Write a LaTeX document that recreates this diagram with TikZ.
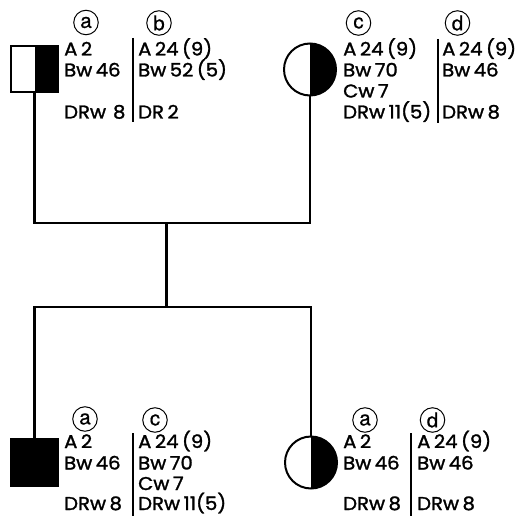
\documentclass[tikz,border=0pt]{standalone}
\usepackage{fontspec}
\newfontfamily\hlafont[FakeStretch=1.06, FakeBold=1.5]{Poppins}
\newfontfamily\tagfont[FakeBold=0.6]{TeX Gyre Heros}
\newcommand{\gp}{\hspace{3.5bp}}
\tikzset{
  lbl/.style={anchor=base west, inner sep=0pt, font=\hlafont\fontsize{18.5bp}{21bp}\selectfont},
  tag/.style={draw, circle, line width=1bp, minimum size=24.5bp, inner sep=0pt,
              font=\tagfont\fontsize{20.5bp}{20.5bp}\selectfont},
  kin/.style={line width=2.8bp},
  sep/.style={line width=1.1bp},
  male/.style={draw, rectangle, line width=2bp, minimum size=46bp, inner sep=0pt},
  female/.style={draw, circle, line width=2bp, minimum size=52bp, inner sep=0pt},
  halfblack/.style={path picture={\fill[black] (path picture bounding box.north)
      rectangle (path picture bounding box.south east);}},
}
\begin{document}
\begin{tikzpicture}[x=1bp,y=-1bp]
\useasboundingbox (0,0) rectangle (519,516);

% individuals
\node[male, halfblack] (father) at (34.5,69) {};
\node[female, halfblack] (mother) at (310,69.5) {};
\node[male, fill=black, minimum size=47bp] (son) at (34.5,462.5) {};
\node[female, halfblack] (daughter) at (311,462.5) {};

% lines of descent
\coordinate (mate) at (166.5,223);
\coordinate (sib) at (166.5,307);
\draw[kin] (father.south) |- (mate) -| (mother.south);
\draw[kin] (mate) -- (sib);
\draw[kin] (son.north) |- (sib) -| (daughter.north);

% father: haplotypes a / b
\node[tag] (fa) at (86,22.5) {a};
\node[tag] (fb) at (159,23) {b};
\node[lbl] (f1) at (64,55.5) {A\gp 2};
\node[lbl] (f2) at (64,76.5) {Bw\gp 46};
\node[lbl] (f3) at (64,118.5) {DRw\hspace{7bp}8};
\node[lbl] (f4) at (138,55.5) {A\gp 24\gp(9)};
\node[lbl] (f5) at (138,76.5) {Bw\gp 52\gp(5)};
\node[lbl] (f6) at (138,118.5) {DR\gp 2};
\coordinate (fd1) at (133,38);
\coordinate (fd2) at (133,122);
\draw[sep] (fd1) -- (fd2);

% mother: haplotypes c / d
\node[tag] (mc) at (358.5,23) {c};
\node[tag] (md) at (457.5,23) {d};
\node[lbl] (m1) at (343,55.5) {A\gp 24\gp(9)};
\node[lbl] (m2) at (343,76.5) {Bw\gp 70};
\node[lbl] (m3) at (343,97.5) {Cw\gp 7};
\node[lbl] (m4) at (343,118.5) {DRw\gp 11(5)};
\node[lbl] (m5) at (442,55.5) {A\gp 24\gp(9)};
\node[lbl] (m6) at (442,76.5) {Bw\gp 46};
\node[lbl] (m7) at (442,118.5) {DRw\gp 8};
\coordinate (md1) at (438,39);
\coordinate (md2) at (438,123);
\draw[sep] (md1) -- (md2);

% son: haplotypes a / c
\node[tag] (sa) at (85,419) {a};
\node[tag] (sc) at (155,420) {c};
\node[lbl] (s1) at (64,448) {A\gp 2};
\node[lbl] (s2) at (64,469.5) {Bw\gp 46};
\node[lbl] (s3) at (64,510) {DRw\gp 8};
\node[lbl] (s4) at (138,448) {A\gp 24\gp(9)};
\node[lbl] (s5) at (138,469.5) {Bw\gp 70};
\node[lbl] (s6) at (138,490) {Cw\gp 7};
\node[lbl] (s7) at (138,510) {DRw\gp 11(5)};
\coordinate (sd1) at (133,433);
\coordinate (sd2) at (133,516);
\draw[sep] (sd1) -- (sd2);

% daughter: haplotypes a / d
\node[tag] (da) at (365,420) {a};
\node[tag] (dd) at (432.5,420) {d};
\node[lbl] (d1) at (343,448) {A\gp 2};
\node[lbl] (d2) at (343,469.5) {Bw\gp 46};
\node[lbl] (d3) at (343,510) {DRw\gp 8};
\node[lbl] (d4) at (417,448) {A\gp 24\gp(9)};
\node[lbl] (d5) at (417,469.5) {Bw\gp 46};
\node[lbl] (d6) at (417,510) {DRw\gp 8};
\coordinate (dd1) at (411,433);
\coordinate (dd2) at (411,516);
\draw[sep] (dd1) -- (dd2);
\end{tikzpicture}
\end{document}
